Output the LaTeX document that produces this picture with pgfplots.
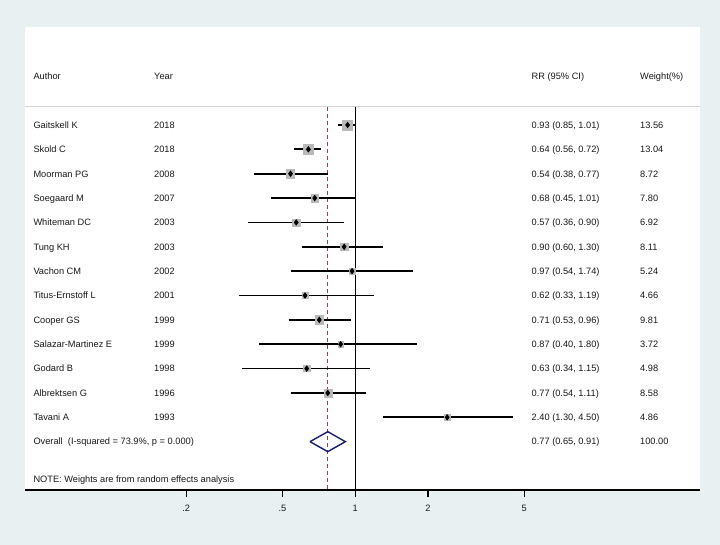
\documentclass[border=0pt]{standalone}
\usepackage{fontspec}
\setmainfont{Liberation Sans}
\usepackage{pgfplots}
\pgfplotsset{compat=1.18}
\definecolor{bg}{RGB}{232,240,242}
\definecolor{sq}{RGB}{185,185,185}
\definecolor{navy}{RGB}{26,28,110}
\definecolor{maroon}{RGB}{150,65,85}
\definecolor{txt}{RGB}{25,25,25}
\definecolor{sep}{RGB}{212,212,212}
\newcommand\f{\fontsize{9.25bp}{11bp}\selectfont}
\newcommand\row[5]{%
  \pgfmathsetmacro\yy{545-(125+(#1-1)*24.36)-3.3}%
  \node[anchor=base west,inner sep=0,text=txt,font=\f] at (33.3bp,\yy bp) {#2};%
  \node[anchor=base west,inner sep=0,text=txt,font=\f] at (154bp,\yy bp) {#3};%
  \node[anchor=base west,inner sep=0,text=txt,font=\f] at (531.5bp,\yy bp) {#4};%
  \node[anchor=base west,inner sep=0,text=txt,font=\f] at (640bp,\yy bp) {#5};%
}
\pgfplotstableread{
x y w
0.93 14 13.56
0.64 13 13.04
0.54 12 8.72
0.68 11 7.80
0.57 10 6.92
0.90 9 8.11
0.97 8 5.24
0.62 7 4.66
0.71 6 9.81
0.87 5 3.72
0.63 4 4.98
0.77 3 8.58
2.40 2 4.86
}\studies
\begin{document}
\begin{tikzpicture}
\fill[bg] (0,0) rectangle (720bp,545bp);
\useasboundingbox (0,0) rectangle (720bp,545bp);
\begin{axis}[at={(25bp,55bp)}, anchor=south west, scale only axis,
  width=675bp, height=463.3bp,
  xmode=log, xmin=0.04308, xmax=26.65, ymin=-0.984, ymax=18.035,
  axis background/.style={fill=white},
  axis x line*=bottom, axis y line=none,
  axis line style={-, line width=1.2bp, black},
  xtick={0.2,0.5,1,2,5}, xticklabels={.2,.5,1,2,5},
  xminorticks=false, tick align=outside, major tick length=7bp,
  tick style={line width=1.2bp,black},
  xticklabel style={font=\f, text=txt, yshift=-5bp},
  /pgf/number format/assume math mode=true,
  clip=false]
\addplot[sep, line width=1bp] coordinates {(0.04308,14.75) (26.65,14.75)};
\addplot[black, line width=1.1bp] coordinates {(1,14.75) (1,-0.984)};
\addplot[maroon, line width=1.15bp, dash pattern=on 4bp off 3bp] coordinates {(0.77,14.75) (0.77,-0.984)};
\addplot[sq, scatter, only marks, mark=square*,
  mark options={draw=none, fill=sq},
  scatter/use mapped color={draw=none, fill=sq},
  visualization depends on={1.36*sqrt(\thisrow{w}) \as \ms},
  scatter/@pre marker code/.append style={/tikz/mark size=\ms bp}]
  table[x=x,y=y] {\studies};
\addplot[black, line width=1.8bp] coordinates {(0.85,14) (1.01,14)};
\addplot[black, line width=1.8bp] coordinates {(0.56,13) (0.72,13)};
\addplot[black, line width=1.8bp] coordinates {(0.38,12) (0.77,12)};
\addplot[black, line width=1.8bp] coordinates {(0.45,11) (1.01,11)};
\addplot[black, line width=1.8bp] coordinates {(0.36,10) (0.90,10)};
\addplot[black, line width=1.8bp] coordinates {(0.60,9) (1.30,9)};
\addplot[black, line width=1.8bp] coordinates {(0.54,8) (1.74,8)};
\addplot[black, line width=1.8bp] coordinates {(0.33,7) (1.19,7)};
\addplot[black, line width=1.8bp] coordinates {(0.53,6) (0.96,6)};
\addplot[black, line width=1.8bp] coordinates {(0.40,5) (1.80,5)};
\addplot[black, line width=1.8bp] coordinates {(0.34,4) (1.15,4)};
\addplot[black, line width=1.8bp] coordinates {(0.54,3) (1.11,3)};
\addplot[black, line width=1.8bp] coordinates {(1.30,2) (4.50,2)};
\addplot[black, only marks, mark=diamond*, mark size=2.6bp,
  mark options={draw=black, fill=black, solid, line width=0.8bp}] table[x=x,y=y] {\studies};
\addplot[navy, line width=1.4bp] coordinates {(0.65,1) (0.77,1.41) (0.91,1) (0.77,0.59) (0.65,1)};
\end{axis}
\row{-1}{Author}{Year}{RR (95\% CI)}{Weight(\%)}
\row{1}{Gaitskell K}{2018}{0.93 (0.85, 1.01)}{13.56}
\row{2}{Skold C}{2018}{0.64 (0.56, 0.72)}{13.04}
\row{3}{Moorman PG}{2008}{0.54 (0.38, 0.77)}{8.72}
\row{4}{Soegaard M}{2007}{0.68 (0.45, 1.01)}{7.80}
\row{5}{Whiteman DC}{2003}{0.57 (0.36, 0.90)}{6.92}
\row{6}{Tung KH}{2003}{0.90 (0.60, 1.30)}{8.11}
\row{7}{Vachon CM}{2002}{0.97 (0.54, 1.74)}{5.24}
\row{8}{Titus-Ernstoff L}{2001}{0.62 (0.33, 1.19)}{4.66}
\row{9}{Cooper GS}{1999}{0.71 (0.53, 0.96)}{9.81}
\row{10}{Salazar-Martinez E}{1999}{0.87 (0.40, 1.80)}{3.72}
\row{11}{Godard B}{1998}{0.63 (0.34, 1.15)}{4.98}
\row{12}{Albrektsen G}{1996}{0.77 (0.54, 1.11)}{8.58}
\row{13}{Tavani A}{1993}{2.40 (1.30, 4.50)}{4.86}
\row{14}{Overall\ \ (I-squared = 73.9\%, p = 0.000)}{}{0.77 (0.65, 0.91)}{100.00}
\row{15.53}{NOTE: Weights are from random effects analysis}{}{}{}
\end{tikzpicture}
\end{document}
